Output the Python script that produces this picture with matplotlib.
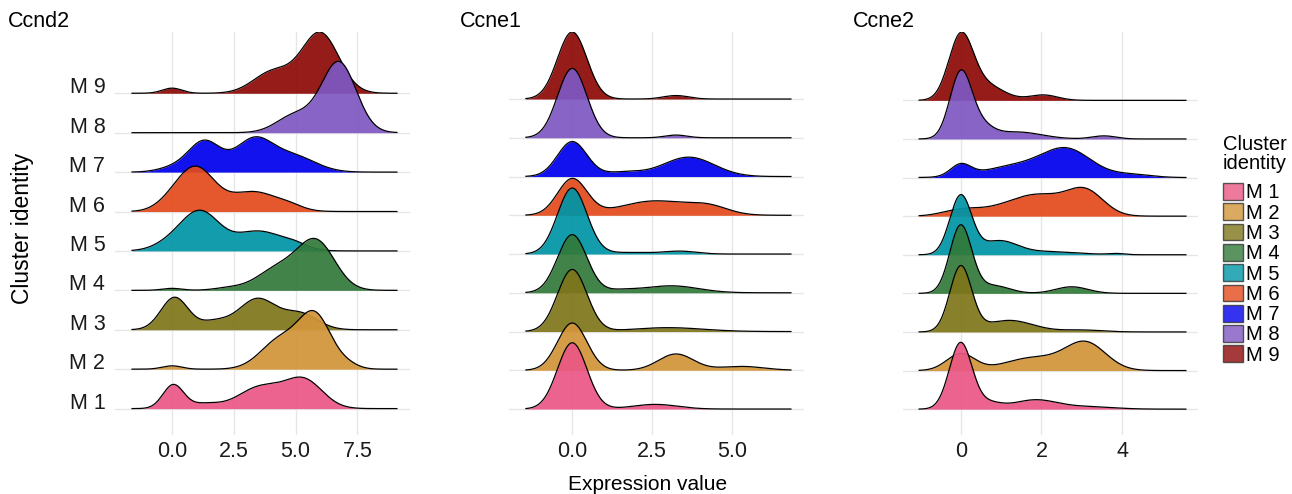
import numpy as np
import matplotlib.pyplot as plt
from matplotlib.patches import Patch

plt.rcParams['font.family'] = ['Liberation Sans', 'DejaVu Sans']

clusters = ['M 1', 'M 2', 'M 3', 'M 4', 'M 5', 'M 6', 'M 7', 'M 8', 'M 9']
colors = ['#EA5785', '#D2953A', '#7F761A', '#327A3A', '#0095A6',
          '#E44A1C', '#0000EE', '#7E58C2', '#8E0A08']

# ridges: bumps as (centre, width, height in rows), M 1 .. M 9
ccnd2_range = (-1.62, 9.1)
ccnd2 = [
    [(0.05, 0.42, 0.6), (1.3, 0.6, 0.12), (3.6, 0.9, 0.55), (5.35, 0.75, 0.7)],
    [(0.0, 0.4, 0.085), (4.4, 0.8, 0.75), (5.8, 0.65, 1.3), (7.1, 0.45, 0.1)],
    [(0.1, 0.55, 0.82), (1.7, 0.6, 0.2), (3.45, 0.75, 0.78), (5.2, 0.7, 0.4)],
    [(0.0, 0.4, 0.05), (2.3, 0.6, 0.06), (4.3, 0.85, 0.55), (5.85, 0.75, 1.2)],
    [(0.0, 0.7, 0.2), (1.15, 0.75, 0.95), (3.5, 1.0, 0.5), (5.0, 0.5, 0.1)],
    [(-0.1, 0.6, 0.15), (0.95, 0.75, 1.09), (3.3, 1.0, 0.5), (4.8, 0.5, 0.08)],
    [(0.0, 0.6, 0.1), (1.3, 0.65, 0.78), (3.3, 0.75, 0.8), (4.9, 0.9, 0.4)],
    [(5.0, 0.75, 0.45), (6.75, 0.7, 1.78)],
    [(0.0, 0.4, 0.13), (4.1, 0.8, 0.55), (6.0, 0.75, 1.52)],
]

ccne1_range = (-1.45, 6.85)
ccne1 = [
    [(0.0, 0.46, 1.71), (2.6, 0.7, 0.12)],
    [(0.0, 0.46, 1.22), (3.25, 0.55, 0.42), (5.3, 0.7, 0.1)],
    [(0.0, 0.46, 1.6), (3.0, 1.1, 0.1)],
    [(0.0, 0.46, 1.5), (1.5, 0.5, 0.06), (3.1, 0.85, 0.18)],
    [(0.0, 0.46, 1.7), (1.8, 0.8, 0.04), (3.4, 0.5, 0.07)],
    [(0.0, 0.46, 0.93), (2.6, 1.1, 0.37), (4.3, 0.6, 0.18)],
    [(0.0, 0.46, 0.9), (1.6, 0.6, 0.11), (3.65, 0.8, 0.5)],
    [(0.0, 0.46, 1.79), (3.25, 0.35, 0.07)],
    [(0.0, 0.46, 1.73), (3.25, 0.4, 0.09)],
]

ccne2_range = (-1.03, 5.58)
ccne2 = [
    [(0.0, 0.28, 1.72), (0.7, 0.3, 0.15), (1.85, 0.55, 0.24), (3.2, 0.6, 0.06)],
    [(0.0, 0.35, 0.43), (1.8, 0.7, 0.33), (3.1, 0.5, 0.7)],
    [(0.0, 0.27, 1.68), (1.2, 0.6, 0.3), (3.0, 0.5, 0.05)],
    [(0.0, 0.27, 1.75), (0.8, 0.4, 0.2), (2.75, 0.4, 0.17)],
    [(0.0, 0.27, 1.52), (0.95, 0.45, 0.35), (2.2, 0.7, 0.08), (3.85, 0.2, 0.03)],
    [(0.0, 0.45, 0.16), (0.8, 0.5, 0.08), (1.9, 0.7, 0.55), (3.1, 0.45, 0.6)],
    [(0.0, 0.25, 0.3), (1.4, 0.8, 0.3), (2.65, 0.6, 0.68), (4.2, 0.5, 0.08)],
    [(0.0, 0.27, 1.7), (0.5, 0.3, 0.3), (1.4, 0.6, 0.18), (3.55, 0.3, 0.08)],
    [(0.0, 0.3, 1.6), (0.6, 0.45, 0.4), (2.05, 0.35, 0.14)],
]

genes = ['Ccnd2', 'Ccne1', 'Ccne2']
ticks = [[0, 2.5, 5, 7.5], [0, 2.5, 5], [0, 2, 4]]
tick_labels = [['0.0', '2.5', '5.0', '7.5'], ['0.0', '2.5', '5.0'], ['0', '2', '4']]
xlims = [(-2.31, 9.63), (-1.98, 7.26), (-1.43, 5.88)]


def curve(x, bumps):
    y = np.zeros_like(x)
    for mu, sd, h in bumps:
        y += h * np.exp(-0.5 * ((x - mu) / sd) ** 2)
    return y


W, H = 1292, 494
fig = plt.figure(figsize=(W / 100, H / 100), dpi=100)

panels = [(ccnd2, ccnd2_range), (ccne1, ccne1_range), (ccne2, ccne2_range)]
lefts = [115, 509, 903]
title_x = [8, 460, 853]

for k, (ridges, rng) in enumerate(panels):
    ax = fig.add_axes([lefts[k] / W, (H - 435) / H, 295 / W, 403 / H])
    x = np.linspace(rng[0], rng[1], 500)
    top = 0
    # top row first so lower ridges overlap it
    for i in range(len(clusters) - 1, -1, -1):
        row = i + 1
        y = curve(x, ridges[i])
        top = max(top, row + y.max())
        z = 10 + (9 - i) * 2
        ax.fill_between(x, row, row + y, color=colors[i], alpha=0.93, lw=0, zorder=z)
        ax.plot(x, row + y, color='black', lw=0.9, zorder=z + 1)
    ax.set_xlim(*xlims[k])
    ax.set_ylim(0.33, top)
    ax.set_xticks(ticks[k])
    ax.set_xticklabels(tick_labels[k])
    ax.set_yticks(range(1, 10))
    if k == 0:
        ax.set_yticklabels(clusters)
        for t in ax.get_yticklabels():
            t.set_va('baseline')
    else:
        ax.set_yticklabels([])
    ax.grid(True, color='#E6E6E6', lw=1.0)
    ax.set_axisbelow(True)
    for s in ax.spines.values():
        s.set_visible(False)
    ax.tick_params(length=0, labelsize=15.5, colors='#1a1a1a', pad=4)
    ax.tick_params(axis='y', pad=7)
    fig.text(title_x[k] / W, 1 - 27 / H, genes[k], fontsize=15.5, va='baseline', ha='left')

fig.text(648 / W, 1 - 490 / H, 'Expression value', fontsize=15, ha='center', va='baseline')
fig.text(23 / W, 1 - 228 / H, 'Cluster identity', fontsize=16.5, rotation=90,
         ha='center', va='center')

fig.text(1223 / W, 1 - 135 / H, 'Cluster\nidentity', fontsize=14.5, ha='left', va='top',
         linespacing=1.0)
handles = [Patch(facecolor=c, edgecolor='#333333', alpha=0.8, lw=1.0) for c in colors]
fig.legend(handles, clusters, loc='upper left', bbox_to_anchor=(1223 / W, 1 - 183 / H),
           frameon=False, fontsize=14.5,
           handlelength=1.0, handleheight=0.9, handletextpad=0.15, labelspacing=0.05,
           borderpad=0, borderaxespad=0)

fig.savefig('out.png', dpi=100)
